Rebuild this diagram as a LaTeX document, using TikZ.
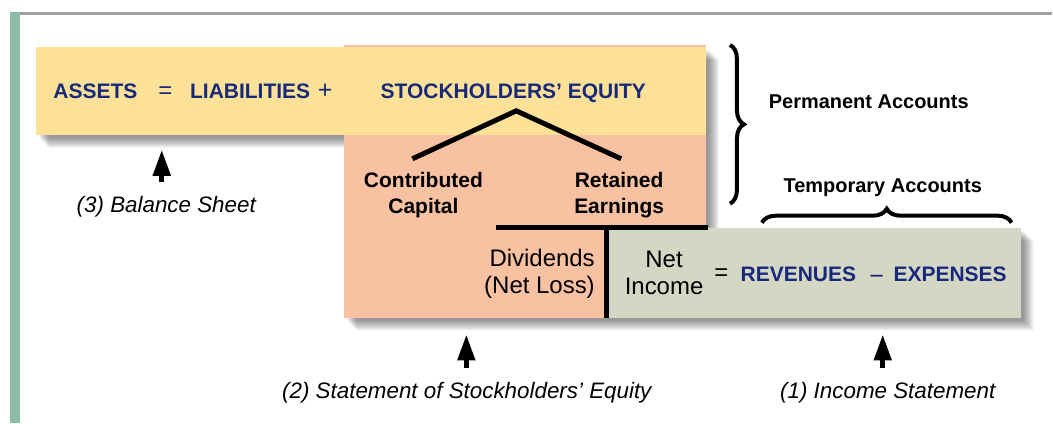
\documentclass[tikz,border=0pt]{standalone}
\usepackage{fontspec}
\setmainfont{Liberation Sans}
\usetikzlibrary{arrows.meta,decorations.pathreplacing}
\definecolor{acctNavy}{HTML}{17297A}
\definecolor{acctYellow}{HTML}{FDE198}
\definecolor{acctSalmon}{HTML}{F8C1A1}
\definecolor{acctSage}{HTML}{D5D7C5}
\definecolor{acctGreen}{HTML}{8DBCA6}
\definecolor{acctRule}{HTML}{A0A0A0}
\begin{document}
\begin{tikzpicture}[x=0.5pt,y=-0.5pt,
  eqn/.style={font=\fontsize{10.5}{13}\selectfont\bfseries,text=acctNavy,inner sep=0pt,anchor=base},
  part/.style={font=\fontsize{10.5}{13}\selectfont\bfseries,align=center,inner sep=0pt},
  kind/.style={font=\fontsize{10}{12}\selectfont\bfseries,inner sep=0pt,anchor=base},
  plain/.style={font=\fontsize{12}{13.5}\selectfont,inner sep=0pt},
  caption/.style={font=\fontsize{11.2}{13}\selectfont\itshape,inner sep=0pt,anchor=base},
  bar/.style={line width=2.5pt},
  uparrow/.style={line width=2.5pt,-{Triangle[length=13pt,width=8.5pt]}},
  curly/.style={decorate,decoration={brace,amplitude=7pt},line width=2pt}]
\fill[white] (0,0) rectangle (1053,424);
\fill[acctGreen] (10,12) rectangle (20,424);
\draw[acctRule,line width=1.5pt] (20,13.5) -- (1053,13.5);
\foreach \s in {3,...,13}
  \fill[black,opacity=0.045,shift={(\s,\s)}] (36,47) -- (707,47) -- (707,228) -- (1022,228) -- (1022,318) -- (344,318) -- (344,135) -- (36,135) -- cycle;
\fill[acctSalmon] (344,45) rectangle (707,318);
\fill[acctYellow] (36,47) rectangle (707,135);
\fill[acctSage] (607,228) rectangle (1022,318);
\node[eqn] (assets) at (95.5,99) {ASSETS};
\node[eqn,font=\fontsize{12}{13}\selectfont] (eqA) at (165.5,99) {=};
\node[eqn] (liab) at (250.5,99) {LIABILITIES};
\node[eqn,font=\fontsize{12.5}{13}\selectfont] (plus) at (325.5,99) {+};
\node[eqn] (se) at (514,98.5) {STOCKHOLDERS’ EQUITY};
\node[part] (cc) at (424,195) {Contributed\\Capital};
\node[part] (re) at (620,195) {Retained\\Earnings};
\coordinate (capL) at (413,159);
\coordinate (apex) at (517,111);
\coordinate (capR) at (622,159);
\draw[bar] (capL) -- (apex) -- (capR);
\draw[bar] (497,227.5) -- (709,227.5);
\draw[bar] (607.5,227.5) -- (607.5,318);
\node[plain,align=right,anchor=east] (div) at (596,274.5) {Dividends\\(Net Loss)};
\node[plain,align=center] (ni) at (665,273.5) {Net\\Income};
\node[plain,anchor=center] (eqB) at (722.5,275) {=};
\node[eqn] (rev) at (799.5,281.5) {REVENUES};
\node[eqn,font=\fontsize{12.5}{13}\selectfont] (minus) at (878,285) {−};
\node[eqn] (exp) at (951.5,281.5) {EXPENSES};
\coordinate (permTop) at (731,45);
\coordinate (permBot) at (731,204);
\draw[curly] (permTop) -- (permBot);
\node[kind] (perm) at (870,109) {Permanent Accounts};
\node[kind] (temp) at (884,192.5) {Temporary Accounts};
\coordinate (tempL) at (763,223);
\coordinate (tempR) at (1013,223);
\draw[curly] (tempL) -- (tempR);
\node[caption] (bs) at (166.5,213) {(3) Balance Sheet};
\node[caption] (sse) at (467.5,399) {(2) Statement of Stockholders’ Equity};
\node[caption] (is) at (889,399) {(1) Income Statement};
\coordinate (bsTip) at (162,150);
\coordinate (sseTip) at (467,335);
\coordinate (isTip) at (884,335);
\draw[uparrow,shorten <=7pt] (bsTip |- bs.north) -- (bsTip);
\draw[uparrow,shorten <=7pt] (sseTip |- sse.north) -- (sseTip);
\draw[uparrow,shorten <=7pt] (isTip |- is.north) -- (isTip);
\end{tikzpicture}
\end{document}
